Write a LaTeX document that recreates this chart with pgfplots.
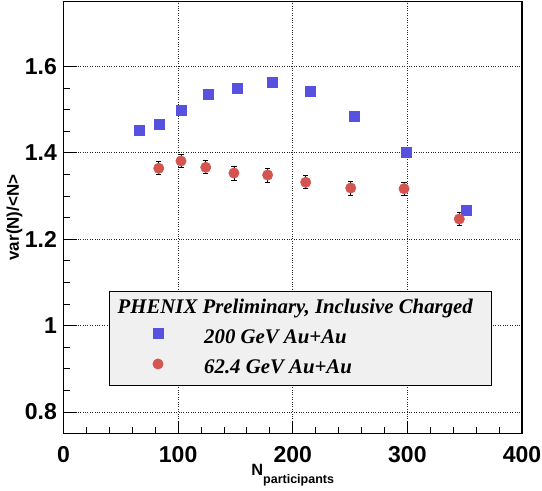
\documentclass[border=0pt]{standalone}
\usepackage{pgfplots}
\pgfplotsset{compat=1.18}
\usepackage{fontspec}
\setmainfont{Liberation Sans}
\newfontfamily\timesfont{Liberation Serif}
\definecolor{myblue}{RGB}{88,80,222}
\definecolor{myred}{RGB}{212,84,80}
\definecolor{legbg}{RGB}{240,240,240}
\begin{document}
\begin{tikzpicture}
\path[use as bounding box] (-63.5pt,-57.5pt) rectangle (478.5pt,433.5pt);
\begin{axis}[
  scale only axis, width=458.5pt, height=432pt,
  at={(0pt,0pt)}, anchor=south west,
  xmin=0, xmax=400, ymin=0.75, ymax=1.75,
  xtick={0,100,200,300,400}, ytick={0.8,1,1.2,1.4,1.6},
  minor x tick num=4, minor y tick num=3,
  xtick pos=left, ytick pos=left, tick align=inside,
  major tick length=13pt, minor tick length=6.5pt,
  tick style={black, line width=0.8pt},
  axis line style={black, line width=1.2pt},
  grid=major,
  major grid style={black!85, line width=0.7pt, dash pattern=on 0.8pt off 1.6pt},
  /pgf/number format/assume math mode=true,
  ticklabel style={font=\fontsize{23}{23}\selectfont\bfseries},
  yticklabel style={inner xsep=0pt, xshift=-6.5pt},
  xticklabel style={inner ysep=0pt, yshift=-13pt},
  ylabel={var(N)/<N>},
  ylabel style={font=\fontsize{17}{17}\selectfont\bfseries, at={(axis description cs:-0.1069,0.5)}, anchor=center},
  xlabel={{\fontsize{16.3}{16}\selectfont N}\raisebox{-8pt}{\fontsize{12.5}{12}\selectfont participants}},
  xlabel style={font=\bfseries, at={(axis description cs:0.5,-0.0961)}, anchor=base},
  legend style={at={(axis cs:40,1.0806)}, anchor=north west, fill=legbg, draw=black, line width=0.8pt,
    inner xsep=7.4pt, inner ysep=8pt, row sep=11.5pt, column sep=0pt,
    font=\timesfont\fontsize{20.8}{21}\selectfont\bfseries\itshape,
    nodes={inner sep=0pt, text height=14pt, text depth=4pt}},
  legend cell align=left,
  legend image code/.code={\path (0pt,0pt) (86.6pt,0pt); \draw[#1] plot coordinates {(40.6pt,4.7pt)};},
]
\addlegendimage{empty legend}
\addlegendentry{\hspace*{-86.6pt}PHENIX Preliminary, Inclusive Charged\hspace*{11pt}}
\addplot[only marks, mark=square*, mark size=5pt, color=myblue, line width=0.5pt] coordinates {
(66.1,1.4525) (83.1,1.4657) (103.1,1.4988) (126.1,1.5352) (151.6,1.5491)
(181.9,1.5620) (215.7,1.5428) (254.0,1.4850) (299.4,1.4009) (351.8,1.2674)
};
\addlegendentry{200 GeV Au+Au}
\addplot[only marks, mark=*, mark size=5.2pt, color=myred, line width=0.5pt,
  error bars/.cd, y dir=both, y explicit,
  error bar style={black, line width=0.7pt},
  error mark options={black, rotate=90, mark size=2.7pt, line width=0.7pt}] coordinates {
(83.1,1.3639) +- (0,0.015)
(102.5,1.3808) +- (0,0.015)
(124.1,1.3662) +- (0,0.015)
(148.7,1.3530) +- (0,0.016)
(178.1,1.3484) +- (0,0.016)
(211.3,1.3315) +- (0,0.015)
(250.6,1.3183) +- (0,0.016)
(297.1,1.3167) +- (0,0.015)
(345.3,1.2465) +- (0,0.015)
};
\addlegendentry{62.4 GeV Au+Au}
\end{axis}
\end{tikzpicture}
\end{document}
